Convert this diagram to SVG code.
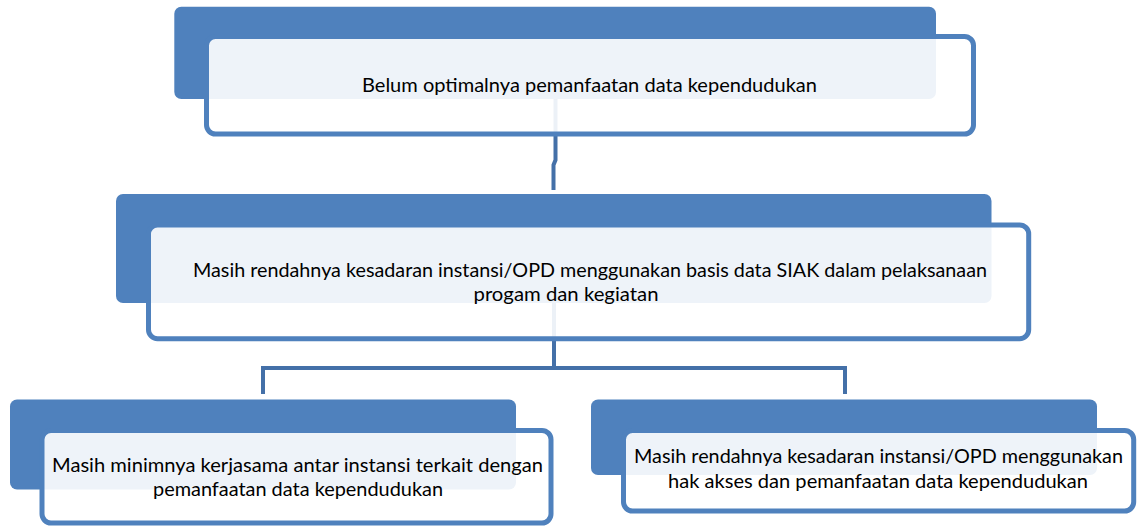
<svg xmlns="http://www.w3.org/2000/svg" width="1139" height="526" viewBox="0 0 1139 526">
<style>
.back{fill:#4F81BD}
.front{fill:#FFFFFF;fill-opacity:0.9;stroke:#4F81BD;stroke-width:5}
.conn{fill:none;stroke:#4470A8;stroke-width:4}
text{font-family:Lato,"Liberation Sans",sans-serif;font-size:20px;fill:#000;text-anchor:middle}
</style>
<rect width="1139" height="526" fill="#FFFFFF"/>
<g id="connectors">
<path class="conn" d="M555.5 99 V160 L553.5 165 V190"/>
<path class="conn" d="M554 303 V368"/>
<path class="conn" d="M263 394 V368 H845 V394"/>
</g>
<g id="node-top">
<rect class="back" x="174.3" y="6.7" width="761.7" height="92.3" rx="7"/>
<rect class="front" x="206.5" y="36.5" width="767" height="97.5" rx="9"/>
<text x="589.5" y="92" textLength="455" lengthAdjust="spacingAndGlyphs">Belum optimalnya pemanfaatan data kependudukan</text>
</g>
<g id="node-middle">
<rect class="back" x="116" y="194" width="875.5" height="109" rx="7"/>
<rect class="front" x="148.5" y="225" width="880.2" height="113.7" rx="9"/>
<text x="590" y="277" textLength="794" lengthAdjust="spacingAndGlyphs">Masih rendahnya kesadaran instansi/OPD menggunakan basis data SIAK dalam pelaksanaan</text>
<text x="566" y="301" textLength="185" lengthAdjust="spacingAndGlyphs">progam dan kegiatan</text>
</g>
<g id="node-left">
<rect class="back" x="10" y="399.5" width="506" height="90" rx="7"/>
<rect class="front" x="42" y="430.5" width="509" height="92.5" rx="9"/>
<text x="297.5" y="472" textLength="491" lengthAdjust="spacingAndGlyphs">Masih minimnya kerjasama antar instansi terkait dengan</text>
<text x="298" y="496" textLength="290" lengthAdjust="spacingAndGlyphs">pemanfaatan data kependudukan</text>
</g>
<g id="node-right">
<rect class="back" x="591" y="399.5" width="506" height="75.5" rx="7"/>
<rect class="front" x="623.5" y="430.5" width="510.2" height="80.5" rx="9"/>
<text x="878.5" y="463" textLength="489" lengthAdjust="spacingAndGlyphs">Masih rendahnya kesadaran instansi/OPD menggunakan</text>
<text x="878" y="488" textLength="420" lengthAdjust="spacingAndGlyphs">hak akses dan pemanfaatan data kependudukan</text>
</g>
</svg>
